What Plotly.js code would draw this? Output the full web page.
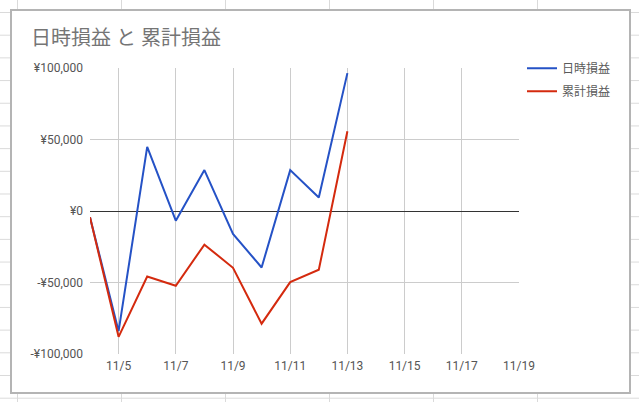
<!DOCTYPE html>
<html>
<head>
<meta charset="utf-8">
<script src="https://cdn.plot.ly/plotly-3.0.1.min.js"></script>
<style>
  html, body { margin:0; padding:0; width:639px; height:402px; overflow:hidden; }
  body {
    background-color:#ffffff;
    background-image:
      linear-gradient(to right, #dadada 1px, transparent 1px),
      linear-gradient(to bottom, #dadada 1px, transparent 1px);
    background-size: 104px 22.7px;
    background-position: 17px 12px;
  }
  #box { position:absolute; left:10px; top:9px; width:621px; height:385px; box-sizing:border-box;
         border:2px solid #b4b4b4; background:#ffffff; z-index:0; }
  #chart { position:absolute; left:0; top:0; width:639px; height:402px; z-index:1; }
</style>
</head>
<body>
<div id="box"></div>
<div id="chart"></div>
<script>
const titleText = '日時損益 と 累計損益';
const seriesNames = ['日時損益', '累計損益'];
const dates = ['2023-11-04','2023-11-05','2023-11-06','2023-11-07','2023-11-08','2023-11-09','2023-11-10','2023-11-11','2023-11-12','2023-11-13'];
const daily = [-4400, -84000, 44800, -6800, 28600, -16000, -39500, 28600, 9500, 96400];
const cumulative = [-4400, -88000, -45800, -52300, -23500, -39700, -78800, -49700, -41100, 55800];
const xTickVals = ['2023-11-05','2023-11-07','2023-11-09','2023-11-11','2023-11-13','2023-11-15','2023-11-17','2023-11-19'];
const xTickText = ['11/5','11/7','11/9','11/11','11/13','11/15','11/17','11/19'];
const yTickVals = [-100000, -50000, 0, 50000, 100000];
const yTickText = ['-¥100,000','-¥50,000','¥0','¥50,000','¥100,000'];
const colors = ['#2552c6', '#d42a0e'];

const font = 'Roboto, "Noto Sans CJK JP", sans-serif';

const traces = [
  { x: dates, y: daily, name: seriesNames[0], legendgroup: 'a', type: 'scatter', mode: 'lines',
    line: { color: colors[0], width: 2 } },
  { x: dates, y: cumulative, name: seriesNames[1], legendgroup: 'b', type: 'scatter', mode: 'lines',
    line: { color: colors[1], width: 2 } }
];

const layout = {
  width: 639, height: 402,
  paper_bgcolor: 'rgba(0,0,0,0)',
  plot_bgcolor: 'rgba(0,0,0,0)',
  margin: { l: 90, r: 120, t: 68, b: 48 },
  font: { family: font, size: 12, color: '#555555' },
  title: { text: titleText, xref: 'container', yref: 'container', x: 31/639, xanchor: 'left',
           y: 1 - 38/402, yanchor: 'middle', font: { family: font, size: 20, color: '#757575' } },
  xaxis: { type: 'date', range: ['2023-11-04', '2023-11-19'], tickvals: xTickVals, ticktext: xTickText,
           showgrid: true, gridcolor: '#cccccc', gridwidth: 1, zeroline: false, showline: false,
           ticks: '', ticklabelstandoff: 3, tickfont: { size: 12, color: '#555555' }, fixedrange: true },
  yaxis: { range: [-100000, 100000], tickvals: yTickVals, ticktext: yTickText,
           showgrid: true, gridcolor: '#cccccc', gridwidth: 1,
           zeroline: true, zerolinecolor: '#333333', zerolinewidth: 1, showline: false,
           ticks: '', ticklabelstandoff: 6, tickfont: { size: 12, color: '#555555' }, fixedrange: true },
  showlegend: true,
  legend: { x: 1.007, xanchor: 'left', y: 1.05, yanchor: 'top', bgcolor: 'rgba(0,0,0,0)',
            traceorder: 'grouped', tracegroupgap: 4,
            font: { size: 12, color: '#5a5a5a' }, itemwidth: 30 },
  hovermode: false
};

Plotly.newPlot('chart', traces, layout, { staticPlot: true, displayModeBar: false });
</script>
</body>
</html>
